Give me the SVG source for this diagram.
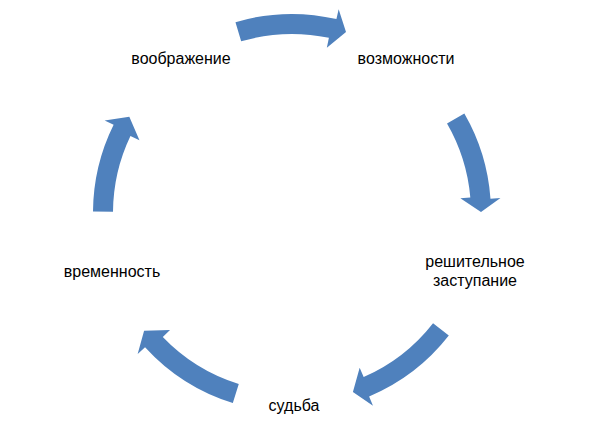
<svg xmlns="http://www.w3.org/2000/svg" width="591" height="421" viewBox="0 0 591 421">
<style>
.arrow{fill:#4F81BD;stroke:none}
.lbl{font-family:"Liberation Sans",Arial,sans-serif;font-size:16px;fill:#000;text-anchor:middle}
</style>
<rect width="591" height="421" fill="#fff"/>
<g id="connectors">
<path class="arrow" d="M235.48,22.19 A199,199 0 0 1 336.43,19.02 L338.66,9.28 L346.0,31.88 L326.85,47.63 L328.91,37.85 A179,179 0 0 0 241.16,41.37 Z"/>
<path class="arrow" d="M464.34,113.5 A199,199 0 0 1 490.49,198.77 L500.47,198.06 L481.0,212.01 L460.36,198.27 L470.32,197.40 A179,179 0 0 0 447.02,123.5 Z"/>
<path class="arrow" d="M448.81,335.52 A199,199 0 0 1 369.12,396.45 L372.99,405.67 L352.91,391.92 L359.66,367.86 L363.66,377.03 A179,179 0 0 0 433.05,323.20 Z"/>
<path class="arrow" d="M232.82,403.0 A199,199 0 0 1 145.05,347.19 L137.66,353.93 L144.09,330.65 L170.02,329.97 L162.80,336.89 A179,179 0 0 0 238.77,383.90 Z"/>
<path class="arrow" d="M93.0,211.61 A199,199 0 0 1 113.61,124.83 L104.65,120.40 L129.32,116.79 L139.46,140.24 L130.44,135.94 A179,179 0 0 0 113.0,211.75 Z"/>
</g>
<g id="node-voobrazhenie"><text class="lbl" x="181" y="64">воображение</text></g>
<g id="node-vozmozhnosti"><text class="lbl" x="406" y="64">возможности</text></g>
<g id="node-zastupanie"><text class="lbl" x="475" y="267">решительное</text><text class="lbl" x="475" y="285.5">заступание</text></g>
<g id="node-sudba"><text class="lbl" x="294" y="411">судьба</text></g>
<g id="node-vremennost"><text class="lbl" x="112" y="277">временность</text></g>
</svg>
